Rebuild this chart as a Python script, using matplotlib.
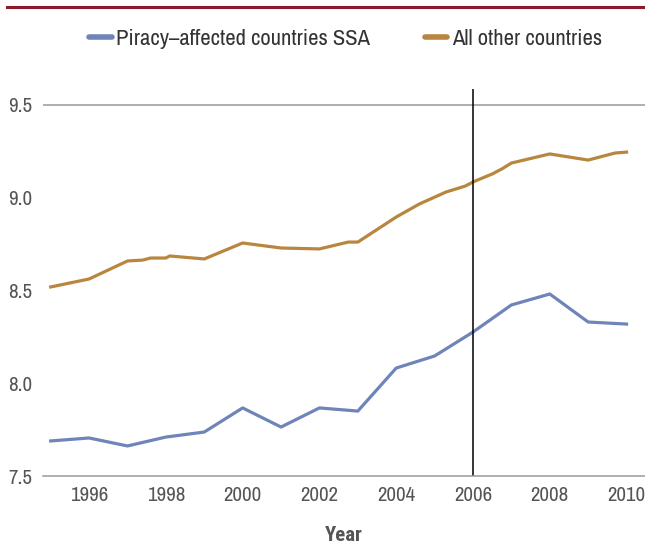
import matplotlib
matplotlib.use("Agg")
import matplotlib.pyplot as plt
from matplotlib import font_manager

names = {f.name for f in font_manager.fontManager.ttflist}
FONT = "DejaVu Sans"
for cand in ["Archivo Narrow", "Barlow Condensed", "Roboto Condensed"]:
    if cand in names:
        FONT = cand
        break
BOLD = "Roboto Condensed" if "Roboto Condensed" in names else FONT
plt.rcParams["font.family"] = [FONT, "DejaVu Sans"]

# piracy-affected countries SSA (yearly)
ssa_years = [1995, 1996, 1997, 1998, 1999, 2000, 2001, 2002, 2003, 2004,
             2005, 2006, 2007, 2008, 2009, 2010]
ssa_vals = [7.689, 7.705, 7.662, 7.710, 7.737, 7.867, 7.764, 7.867, 7.850,
            8.082, 8.147, 8.276, 8.422, 8.481, 8.330, 8.319]

# all other countries (more points)
oth_years = [1995, 1996, 1997, 1997.4, 1997.6, 1998, 1998.1, 1999, 2000, 2001,
             2002, 2002.75, 2003, 2004, 2004.6, 2005.3, 2005.8, 2006, 2006.5,
             2006.75, 2007, 2008, 2009, 2009.7, 2010]
oth_vals = [8.519, 8.562, 8.659, 8.664, 8.675, 8.675, 8.686, 8.670, 8.756,
            8.729, 8.724, 8.761, 8.761, 8.896, 8.966, 9.031, 9.063, 9.085,
            9.128, 9.155, 9.187, 9.236, 9.203, 9.241, 9.246]

xticks = [1996, 1998, 2000, 2002, 2004, 2006, 2008, 2010]
yticks = [7.5, 8.0, 8.5, 9.0, 9.5]

blue = "#6f84b9"
orange = "#b8863f"

fig = plt.figure(figsize=(6.45, 5.57), dpi=100)
ax = fig.add_axes([0.0667, 0.1454, 0.9333, 0.6948])

ax.plot(ssa_years, ssa_vals, color=blue, lw=2.3, label="Piracy\u2013affected countries SSA")
ax.plot(oth_years, oth_vals, color=orange, lw=2.3, label="All other countries")
ax.axvline(2006, color="black", lw=1.1)
ax.axhline(9.5, color="#999999", lw=1.1, zorder=0)

ax.set_xlim(1994.8, 2010.48)
ax.set_ylim(7.5, 9.586)
ax.set_xticks(xticks)
ax.set_yticks(yticks)
ax.set_yticklabels([f"{v:.1f}" for v in yticks])
for s in ["top", "right", "left"]:
    ax.spines[s].set_visible(False)
ax.spines["bottom"].set_color("#999999")
ax.spines["bottom"].set_linewidth(1.1)
ax.tick_params(length=0, labelsize=15, colors="#555555", pad=7)
ax.tick_params(axis="y", pad=8)
ax.set_xlabel("Year", fontsize=15, fontweight="bold", color="#555555", labelpad=15,
              family=[BOLD, "DejaVu Sans"])

leg = fig.legend(loc="center", bbox_to_anchor=(0.536, 0.93), ncol=2, frameon=False,
                 fontsize=16.3, handlelength=1.0, handletextpad=0.22, columnspacing=2.4,
                 labelcolor="#333333")
for h in leg.legend_handles:
    h.set_linewidth(4)
    h.set_solid_capstyle("round")

fig.add_artist(plt.Line2D([0.011, 1.0], [0.987, 0.987], color="#8b1a2b", lw=2.2))

fig.savefig("out.png", dpi=100)
